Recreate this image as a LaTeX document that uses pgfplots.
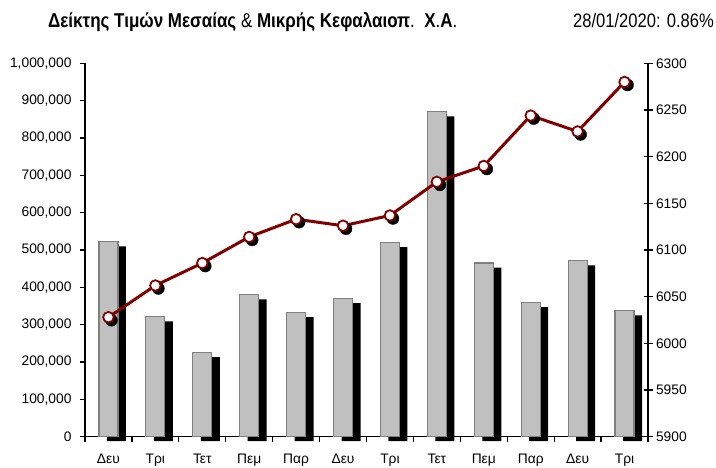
\documentclass[border=0pt]{standalone}
\usepackage{pgfplots}
\usepackage{pgfplotstable}
\pgfplotsset{compat=1.18}
\usepackage{fontspec}
\setmainfont{Liberation Sans}
\newfontfamily\titlefont[FakeStretch=0.85]{Liberation Sans}
\definecolor{dred}{HTML}{800000}
\definecolor{barfill}{HTML}{C0C0C0}
\definecolor{baredge}{HTML}{808080}
\pgfplotstableread{
x    vol     idx
0.5  522000  6028
1.5  321000  6062
2.5  225000  6086
3.5  380000  6114
4.5  332000  6133
5.5  370000  6126
6.5  520000  6137
7.5  870000  6173
8.5  465000  6190
9.5  359000  6244
10.5 471000  6227
11.5 337000  6280
}\data
\begin{document}
\begin{tikzpicture}
\useasboundingbox (-85pt,-30.3pt) rectangle (631pt,436.7pt);
\begin{axis}[
  at={(0pt,0pt)}, anchor=south west, scale only axis,
  width=563pt, height=373.4pt,
  xmin=0, xmax=12, ymin=0, ymax=1000000,
  axis y line*=left, axis x line*=bottom,
  axis line style={line width=1.4pt, -},
  every tick/.style={line width=1.3pt, black},
  tick align=outside, major tick length=5pt,
  xtick={0,1,...,12}, xticklabels={},
  extra x ticks={0.5,1.5,...,11.5},
  extra x tick labels={Δευ,Τρι,Τετ,Πεμ,Παρ,Δευ,Τρι,Τετ,Πεμ,Παρ,Δευ,Τρι},
  extra x tick style={tick style={draw=none}},
  xticklabel style={yshift=-9pt},
  ytick={0,100000,...,1000000},
  scaled y ticks=false,
  yticklabel style={xshift=-5pt, /pgf/number format/fixed, /pgf/number format/1000 sep={,}},
  /pgf/number format/assume math mode=true,
  tick label style={font=\fontsize{13.8}{16}\selectfont},
  clip=false,
]
\addplot[ybar, bar width=19pt, bar shift=8pt, fill=black, draw=none, yshift=-4.5pt] table[x=x,y=vol]{\data};
\addplot[ybar, bar width=19pt, bar shift=0pt, fill=barfill, draw=baredge, line width=1.2pt] table[x=x,y=vol]{\data};
\end{axis}
\begin{axis}[
  at={(0pt,0pt)}, anchor=south west, scale only axis,
  width=563pt, height=373.4pt,
  xmin=0, xmax=12, ymin=5900, ymax=6300,
  axis y line*=right, axis x line=none,
  axis line style={line width=1.4pt, -},
  every tick/.style={line width=1.3pt, black},
  tick align=center, major tick length=9pt,
  ytick={5900,5950,...,6300},
  yticklabel style={/pgf/number format/fixed, /pgf/number format/1000 sep={}},
  /pgf/number format/assume math mode=true,
  tick label style={font=\fontsize{13.8}{16}\selectfont},
  clip=false,
]
\addplot[only marks, mark=*, mark size=6pt, black, xshift=3pt, yshift=-3pt] table[x=x,y=idx]{\data};
\addplot[color=dred, line width=3pt, mark=*, mark size=5.3pt, mark options={fill=white, draw=dred, line width=1.8pt}] table[x=x,y=idx]{\data};
\end{axis}
\node[anchor=base west, inner sep=0pt, font=\titlefont\fontsize{20}{22}\selectfont] at (-37pt,408.7pt) {\bfseries Δείκτης Τιμών Μεσαίας {\mdseries\&} Μικρής Κεφαλαιοπ{\mdseries.}\ \ Χ{\mdseries.}Α{\mdseries.}};
\node[anchor=base east, inner sep=0pt, font=\titlefont\fontsize{19.5}{22}\selectfont] at (629pt,408.7pt) {28/01/2020: 0.86\%};
\end{tikzpicture}
\end{document}
